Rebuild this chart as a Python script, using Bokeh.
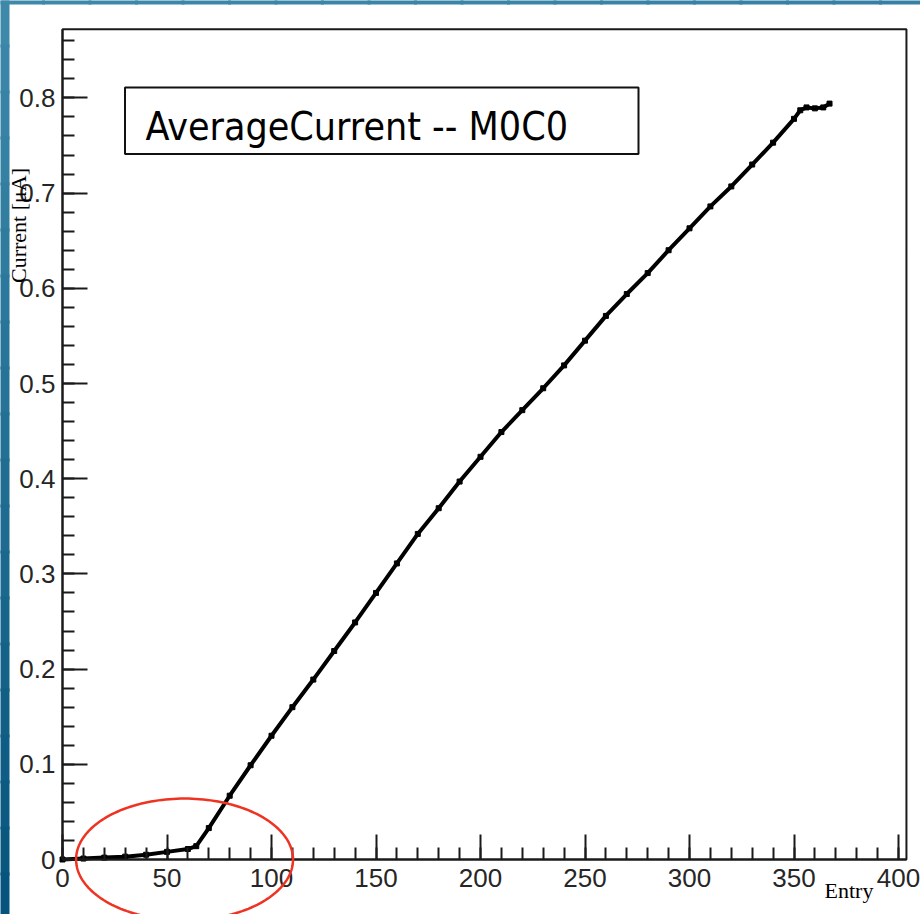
import numpy as np
from bokeh.plotting import figure
from bokeh.models import (Range1d, SingleIntervalTicker, CustomJSTickFormatter,
                          BoxAnnotation, Label, PolyAnnotation)
from bokeh.embed import file_html
from bokeh.resources import INLINE

# ---- data ----
entry = [0, 10, 20, 30, 40, 50, 60, 64, 70, 80, 90, 100, 110, 120, 130, 140, 150,
         160, 170, 180, 190, 200, 210, 220, 230, 240, 250, 260, 270, 280, 290,
         300, 310, 320, 330, 340, 350, 353, 356, 360, 364, 367]
current = [0.000, 0.001, 0.002, 0.003, 0.005, 0.008, 0.011, 0.014, 0.033, 0.067,
           0.099, 0.130, 0.160, 0.189, 0.219, 0.249, 0.280, 0.311, 0.342, 0.369,
           0.397, 0.423, 0.449, 0.472, 0.495, 0.519, 0.545, 0.571, 0.594, 0.616,
           0.640, 0.663, 0.686, 0.707, 0.730, 0.753, 0.778, 0.787, 0.790, 0.789,
           0.790, 0.794]

title_text = "AverageCurrent -- M0C0"
x_title = "Entry"
y_title = "Current [\u03bcA]"

# highlight ellipse (centre / radii in data units)
ell_cx, ell_cy, ell_rx, ell_ry = 58.4, 0.0, 51.9, 0.064

# axis extent of the drawn frame
XMAX, YMAX = 403.8, 0.872

# whole canvas is the plotting frame; axes are fixed at x=0 / y=0
W, H = 920, 914
PX_X = 2.09      # pixels per entry
PX_Y = 952.0     # pixels per uA
X0, Y0 = 62, 859  # screen position of the origin
x_start = -X0 / PX_X
x_end = x_start + W / PX_X
y_end = Y0 / PX_Y
y_start = y_end - H / PX_Y

def sx(px):
    return (px - X0) / PX_X

def sy(py):
    return (Y0 - py) / PX_Y

p = figure(width=W, height=H, output_backend="svg", toolbar_location=None,
           x_range=Range1d(x_start, x_end), y_range=Range1d(y_start, y_end),
           min_border=0, min_border_left=0, min_border_right=0,
           min_border_top=0, min_border_bottom=0,
           background_fill_color="white", border_fill_color="white")

p.xgrid.visible = False
p.ygrid.visible = False
p.outline_line_color = None

tick_font = "'Liberation Sans', Arial, sans-serif"

for ax in (p.xaxis[0], p.yaxis[0]):
    ax.fixed_location = 0
    ax.axis_line_color = "#1a1a1a"
    ax.axis_line_width = 2
    ax.major_tick_line_color = "#1a1a1a"
    ax.major_tick_line_width = 2
    ax.minor_tick_line_color = "#1a1a1a"
    ax.minor_tick_line_width = 2
    ax.major_tick_in = 25
    ax.major_tick_out = 0
    ax.minor_tick_in = 12
    ax.minor_tick_out = 0
    ax.major_label_text_font = tick_font
    ax.major_label_text_font_size = "26px"
    ax.major_label_text_color = "#262626"

p.xaxis[0].bounds = (0, XMAX)
p.yaxis[0].bounds = (0, YMAX)
p.xaxis[0].ticker = SingleIntervalTicker(interval=50, num_minor_ticks=5)
p.yaxis[0].ticker = SingleIntervalTicker(interval=0.1, num_minor_ticks=5)
p.yaxis[0].formatter = CustomJSTickFormatter(
    code="return Math.abs(tick) < 1e-9 ? '0' : tick.toFixed(1);")
p.xaxis[0].major_label_standoff = 9
p.yaxis[0].major_label_standoff = 7

# slide background strips (blue gradient), drawn first
def mix(c1, c2, t):
    a = [int(c1[i:i + 2], 16) for i in (1, 3, 5)]
    b = [int(c2[i:i + 2], 16) for i in (1, 3, 5)]
    return "#%02x%02x%02x" % tuple(int(round(a[k] + (b[k] - a[k]) * t)) for k in range(3))

n = 20
seg_h = 920 / n
for i in range(n):
    top_px = -2 + seg_h * i
    p.add_layout(BoxAnnotation(left=sx(-5), right=sx(9), top=sy(top_px),
                               bottom=sy(top_px + seg_h + 3),
                               fill_color=mix("#3e89aa", "#06547d", i / (n - 1)),
                               fill_alpha=1.0, line_color=None, level="underlay"))
seg_w = 930 / n
for i in range(n):
    left_px = -5 + seg_w * i
    p.add_layout(BoxAnnotation(left=sx(left_px), right=sx(left_px + seg_w + 3),
                               top=sy(-5), bottom=sy(4),
                               fill_color=mix("#3e89aa", "#3580a4", i / (n - 1)),
                               fill_alpha=1.0, line_color=None, level="underlay"))

# frame box (top and right sides)
p.add_layout(BoxAnnotation(left=0, right=XMAX, bottom=0, top=YMAX,
                           fill_color=None, fill_alpha=0,
                           line_color="#1a1a1a", line_alpha=1.0, line_width=2,
                           level="underlay"))

# data
p.line(entry, current, line_color="black", line_width=4)
p.scatter(entry, current, marker="square", size=5, color="black")

# title box
p.add_layout(BoxAnnotation(left=sx(124.5), right=sx(638), bottom=sy(153.5), top=sy(87),
                           fill_color="white", fill_alpha=1.0,
                           line_color="#111111", line_alpha=1.0, line_width=2))
p.add_layout(Label(x=sx(145), y=sy(126), text=title_text,
                   text_font="'DejaVu Sans Condensed', 'DejaVu Sans', sans-serif",
                   text_font_size="39px", text_color="black",
                   text_align="left", text_baseline="alphabetic"))

# axis titles
p.add_layout(Label(x=sx(824), y=sy(890), text=x_title,
                   text_font="'Liberation Serif', 'Times New Roman', serif",
                   text_font_size="22px", text_color="black",
                   text_align="left", text_baseline="alphabetic"))
p.add_layout(Label(x=sx(18), y=sy(225), text=y_title, angle=np.pi / 2,
                   text_font="'Liberation Serif', 'Times New Roman', serif",
                   text_font_size="22px", text_color="black",
                   text_align="center", text_baseline="alphabetic"))

# red ellipse
th = np.linspace(0, 2 * np.pi, 181)
p.add_layout(PolyAnnotation(xs=list(ell_cx + ell_rx * np.cos(th)),
                            ys=list(ell_cy + ell_ry * np.sin(th)),
                            fill_color=None, fill_alpha=0,
                            line_color="#ee3322", line_alpha=1.0, line_width=2.5))

open("out.html", "w").write(file_html(p, INLINE))
